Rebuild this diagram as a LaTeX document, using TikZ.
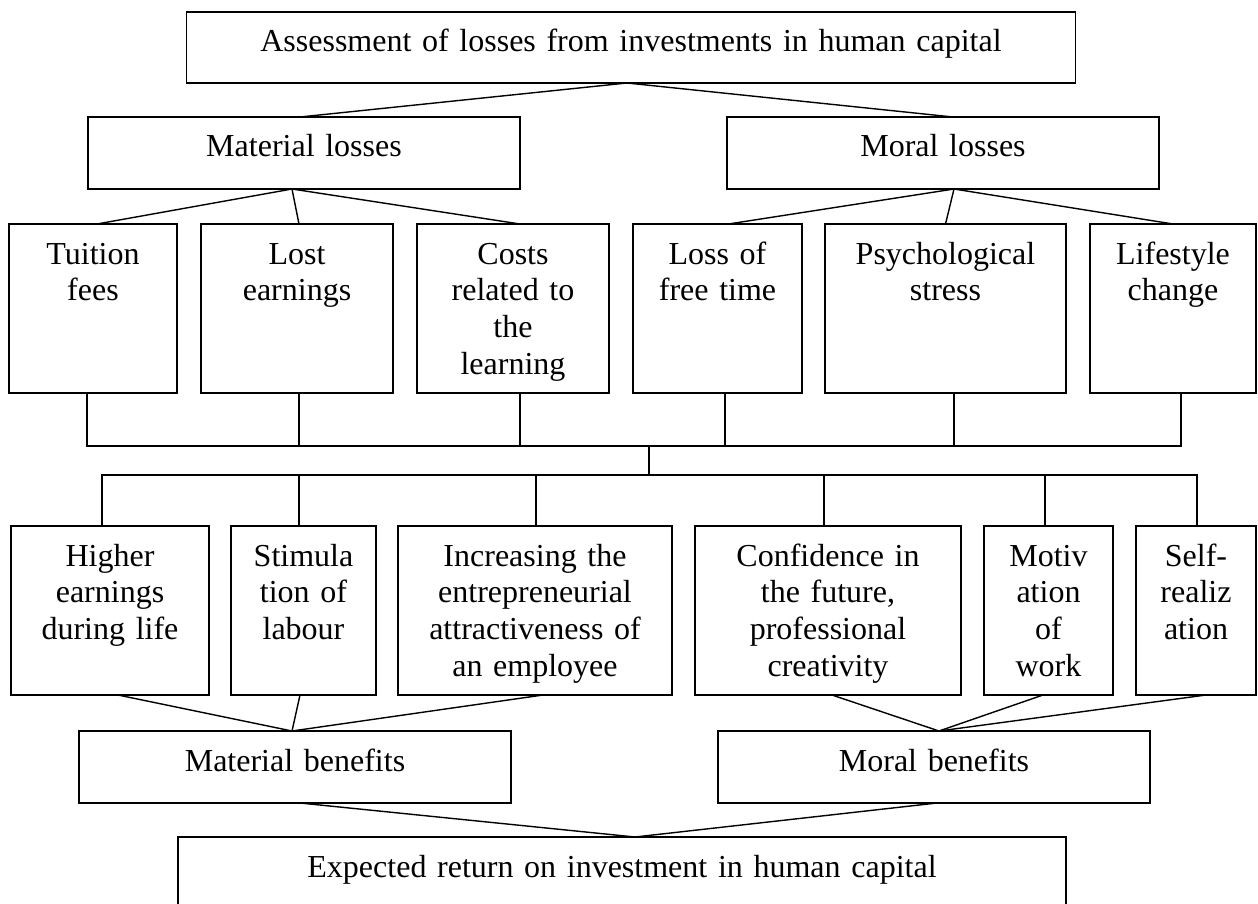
\documentclass[tikz,border=0pt]{standalone}
\usepackage{fontspec}
\setmainfont{Liberation Serif}

\begin{document}
\begin{tikzpicture}[
    x=1pt, y=-1pt,
    line width=1.4pt,
    every node/.style={draw, anchor=north, align=center, inner sep=0pt, outer sep=0pt,
      font=\fontsize{32}{36.7}\selectfont, text height=40pt},
    flat/.style={text width=#1, text depth=32pt},
    tall/.style={text width=#1, text depth=129pt}
  ]
  \useasboundingbox (0,0) rectangle (1258,904);

  % 1
  \node[flat=889pt, text depth=31pt] (assess) at (631,12) {Assessment of losses from investments in human capital};
  % 2
  \node[flat=432pt] (matloss) at (304,117) {Material losses};
  \node[flat=432pt] (morloss) at (943,117) {Moral losses};
  % 3
  \node[tall=168pt] (fees) at (93,224) {Tuition\\fees};
  \node[tall=192pt] (lost) at (297,224) {Lost\\earnings};
  \node[tall=192pt] (costs) at (513,224) {Costs\\related to\\the\\learning};
  \node[tall=169pt] (freetime) at (717.5,224) {Loss of\\free time};
  \node[tall=241pt] (stress) at (945.5,224) {Psychological\\stress};
  \node[tall=166pt] (lifestyle) at (1173,224) {Lifestyle\\change};
  % 4
  \node[tall=198pt] (earn) at (110,526) {Higher\\earnings\\during life};
  \node[tall=145pt] (stim) at (303.5,526) {Stimula\\tion of\\labour};
  \node[tall=274pt] (entre) at (535,526) {Increasing the\\entrepreneurial\\attractiveness of\\an employee};
  \node[tall=266pt] (confid) at (828,526) {Confidence in\\the future,\\professional\\creativity};
  \node[tall=129pt] (motiv) at (1048.5,526) {Motiv\\ation\\of\\work};
  \node[tall=120pt] (selfreal) at (1196,526) {Self-\\realiz\\ation};
  % 5
  \node[flat=432pt] (matben) at (295,731) {Material benefits};
  \node[flat=432pt] (morben) at (934,731) {Moral benefits};
  \node[flat=888pt, text depth=60pt] (expect) at (622,837) {Expected return on investment in human capital};

  % losses
  \draw ([xshift=-4pt]assess.south) -- ([xshift=-4pt]matloss.north);
  \draw ([xshift=-4pt]assess.south) -- ([xshift=10pt]morloss.north);
  \draw ([xshift=-12pt]matloss.south) -- ([xshift=4pt]fees.north);
  \draw ([xshift=-12pt]matloss.south) -- ([xshift=2pt]lost.north);
  \draw ([xshift=-12pt]matloss.south) -- ([xshift=7pt]costs.north);
  \draw ([xshift=11pt]morloss.south) -- ([xshift=11pt]freetime.north);
  \draw ([xshift=11pt]morloss.south) -- (stress.north);
  \draw ([xshift=11pt]morloss.south) -- (lifestyle.north);

  % joining bars
  \coordinate (upper) at (649,446);
  \coordinate (lower) at (649,475);
  \draw ([xshift=-6pt]fees.south) |- (upper);
  \draw ([xshift=2pt]lost.south) |- (upper);
  \draw ([xshift=7pt]costs.south) |- (upper);
  \draw ([xshift=7.5pt]freetime.south) |- (upper);
  \draw ([xshift=8.5pt]stress.south) |- (upper);
  \draw ([xshift=8pt]lifestyle.south) |- (upper);
  \draw (upper) -- (lower);
  \draw (lower) -| ([xshift=-8pt]earn.north);
  \draw (lower) -| ([xshift=-4.5pt]stim.north);
  \draw (lower) -| ([xshift=1pt]entre.north);
  \draw (lower) -| ([xshift=-4pt]confid.north);
  \draw (lower) -| ([xshift=-3.5pt]motiv.north);
  \draw (lower) -| ([xshift=1pt]selfreal.north);

  % benefits
  \draw ([xshift=8pt]earn.south) -- ([xshift=-3pt]matben.north);
  \draw ([xshift=-3.5pt]stim.south) -- ([xshift=-3pt]matben.north);
  \draw ([xshift=8pt]entre.south) -- ([xshift=-3pt]matben.north);
  \draw ([xshift=4pt]confid.south) -- ([xshift=5pt]morben.north);
  \draw ([xshift=-5.5pt]motiv.south) -- ([xshift=5pt]morben.north);
  \draw ([xshift=10pt]selfreal.south) -- ([xshift=5pt]morben.north);
  \draw ([xshift=5pt]matben.south) -- ([xshift=13pt]expect.north);
  \draw ([xshift=3pt]morben.south) -- ([xshift=13pt]expect.north);
\end{tikzpicture}
\end{document}
